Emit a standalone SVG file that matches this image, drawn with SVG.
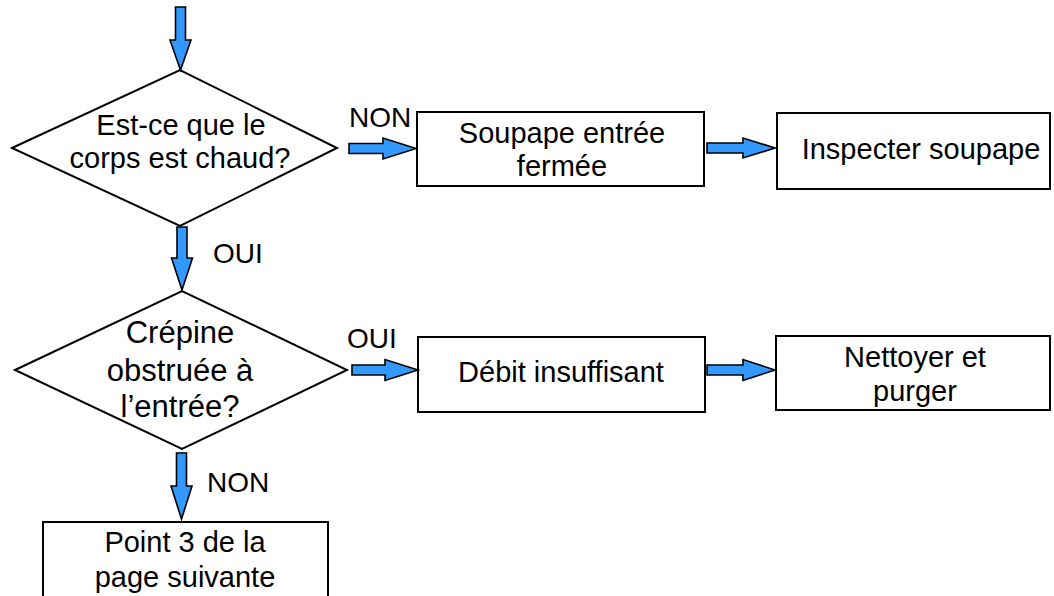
<svg xmlns="http://www.w3.org/2000/svg" width="1054" height="596" viewBox="0 0 1054 596">
<style>
.shape{fill:#ffffff;stroke:#000000;stroke-width:2}
.arr{fill:#3399FF;stroke:#000000;stroke-width:1.6;stroke-linejoin:miter}
text{font-family:"Liberation Sans",Arial,sans-serif;fill:#000000;text-anchor:middle}
.t29{font-size:29px}
.t31{font-size:31px}
.lab{font-size:28px;text-anchor:start}
</style>
<rect width="1054" height="596" fill="#ffffff"/>
<g id="d1">
<polygon class="shape" points="12,148 180,70 337,148 180,226"/>
<text class="t29" x="181" y="135">Est-ce que le</text>
<text class="t29" x="180" y="168">corps est chaud?</text>
</g>
<g id="b1">
<rect class="shape" x="417" y="112" width="287" height="74"/>
<text class="t29" x="562" y="143">Soupape entrée</text>
<text class="t29" x="562" y="176">fermée</text>
</g>
<g id="b2">
<rect class="shape" x="777" y="113" width="273" height="76"/>
<text class="t29" x="921" y="159">Inspecter soupape</text>
</g>
<g id="d2">
<polygon class="shape" points="15,370 182,291 347,370 182,449"/>
<text class="t31" x="180" y="343">Crépine</text>
<text class="t31" x="180" y="381">obstruée à</text>
<text class="t31" x="180" y="417">l’entrée?</text>
</g>
<g id="b3">
<rect class="shape" x="418" y="337" width="287" height="75"/>
<text class="t29" x="561" y="382">Débit insuffisant</text>
</g>
<g id="b4">
<rect class="shape" x="776" y="336" width="274" height="74"/>
<text class="t29" x="915" y="367">Nettoyer et</text>
<text class="t29" x="915" y="401">purger</text>
</g>
<g id="b5">
<rect class="shape" x="43" y="522" width="285" height="90"/>
<text class="t29" x="185" y="552">Point 3 de la</text>
<text class="t29" x="185" y="587">page suivante</text>
</g>
<g id="connectors">
<path class="arr" d="M175.5,7 H185.5 V40 H191 L180.5,70 L170,40 H175.5 Z"/>
<path class="arr" d="M349,143.5 H383 V138 L416,148.5 L383,159 V153.5 H349 Z"/>
<path class="arr" d="M707,143 H743 V138 L775,148 L743,158 V153 H707 Z"/>
<path class="arr" d="M177,227 H187 V258 H192.5 L182,290 L171.5,258 H177 Z"/>
<path class="arr" d="M352,365 H385 V359.5 L418,370 L385,380.5 V375 H352 Z"/>
<path class="arr" d="M707,365 H743 V359.5 L775,370 L743,380.5 V375 H707 Z"/>
<path class="arr" d="M176.5,453 H186.5 V486 H192 L181.5,519 L171,486 H176.5 Z"/>
<text class="lab" x="349" y="127">NON</text>
<text class="lab" x="213" y="263">OUI</text>
<text class="lab" x="347" y="348">OUI</text>
<text class="lab" x="207" y="492">NON</text>
</g>
</svg>
